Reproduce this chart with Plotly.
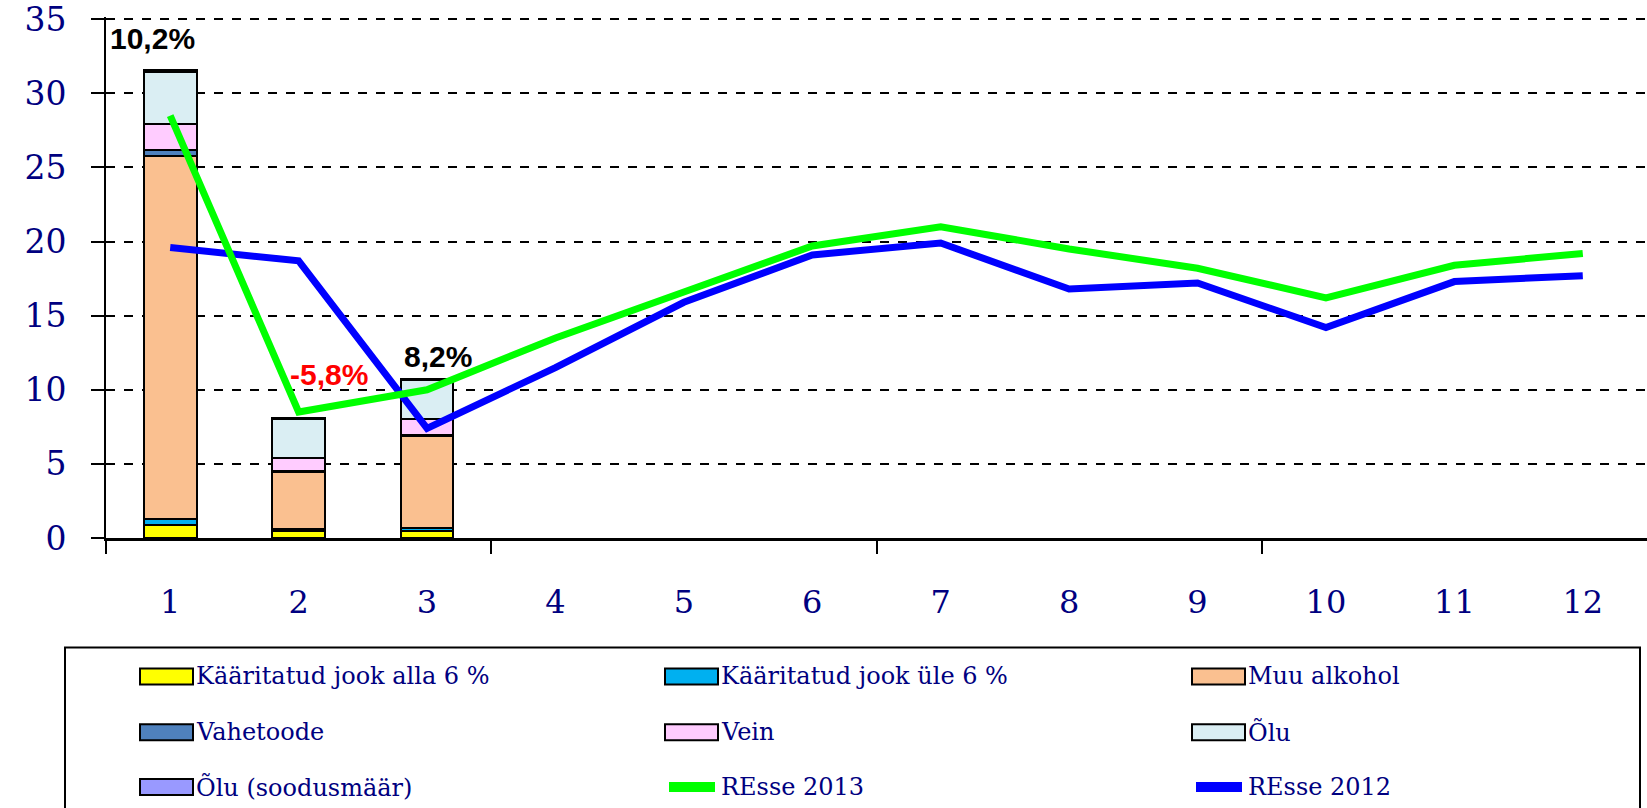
import plotly.graph_objects as go

# kuud
months = list(range(1, 13))
bar_months = [1, 2, 3]

# aktsiisilaekumine kaupade kaupa (mln)
kaar_alla6 = [0.9, 0.45, 0.5]
kaar_yle6 = [0.4, 0.15, 0.15]
muu_alkohol = [24.5, 3.85, 6.2]
vahetoode = [0.35, 0.1, 0.1]
vein = [1.8, 0.85, 1.05]
olu = [3.5, 2.6, 2.65]
olu_soodus = [0.1, 0.1, 0.1]

# REsse read
resse_2013 = [28.5, 8.5, 10.0, 13.5, 16.6, 19.7, 21.0, 19.5, 18.2, 16.2, 18.4, 19.2]
resse_2012 = [19.6, 18.7, 7.4, 11.5, 15.9, 19.1, 19.9, 16.8, 17.2, 14.2, 17.3, 17.7]

# muutuse sildid
pct_labels = ["10,2%", "-5,8%", "8,2%"]
pct_y = [33.7, 11.0, 12.25]
pct_shift = [-18, 30, 11]
pct_colors = ["black", "red", "black"]

bar_series = [
    ("Kääritatud jook alla 6 %", kaar_alla6, "#FFFF00"),
    ("Kääritatud jook üle 6 %", kaar_yle6, "#00B0F0"),
    ("Muu alkohol", muu_alkohol, "#FAC090"),
    ("Vahetoode", vahetoode, "#4F81BD"),
    ("Vein", vein, "#FFCCFF"),
    ("Õlu", olu, "#DAEEF3"),
    ("Õlu (soodusmäär)", olu_soodus, "#9999FF"),
]
line_series = [
    ("REsse 2013", resse_2013, "#00FF00"),
    ("REsse 2012", resse_2012, "#0000FF"),
]

W, H = 1647, 808
Y_MAX = 35.15
UNIT = (538 - 17) / 35  # px ühiku kohta
L, R = 106, 0
PB = 538
T = round(17 - (Y_MAX - 35) * UNIT)
B = H - PB
PW, PH = W - L - R, PB - T

fig = go.Figure()
for name, vals, col in bar_series:
    fig.add_trace(go.Bar(x=bar_months, y=vals, name=name, width=0.41,
                         marker=dict(color=col, line=dict(color="black", width=2)),
                         showlegend=False))
# sinine enne, roheline peale
for name, vals, col in line_series[::-1]:
    fig.add_trace(go.Scatter(x=months, y=vals, name=name, mode="lines",
                             line=dict(color=col, width=7), showlegend=False))

for m, txt, yv, sh, c in zip(bar_months, pct_labels, pct_y, pct_shift, pct_colors):
    fig.add_annotation(x=m, y=yv, text=f"<b>{txt}</b>", showarrow=False, xshift=sh,
                       font=dict(family="Liberation Sans", size=30, color=c))


def px(xp):
    return (xp - L) / PW


def py(yp):
    return (PB - yp) / PH


# legendi kast
fig.add_shape(type="rect", xref="paper", yref="paper",
              x0=px(65), x1=px(1640), y0=py(648), y1=py(820),
              line=dict(color="black", width=2), fillcolor="white", layer="below")

legend_items = [(n, c, "bar") for n, _, c in bar_series] + [(n, c, "line") for n, _, c in line_series]
col_x = [140, 665, 1192]
row_y = [677, 733, 788]
for i, (name, col, kind) in enumerate(legend_items):
    x0 = col_x[i % 3]
    yc = row_y[i // 3]
    if kind == "bar":
        fig.add_shape(type="rect", xref="paper", yref="paper",
                      x0=px(x0), x1=px(x0 + 53), y0=py(yc + 8), y1=py(yc - 8),
                      fillcolor=col, line=dict(color="black", width=2))
    else:
        fig.add_shape(type="line", xref="paper", yref="paper",
                      x0=px(x0 + 4), x1=px(x0 + 50), y0=py(yc), y1=py(yc),
                      line=dict(color=col, width=10))
    fig.add_annotation(xref="paper", yref="paper", x=px(x0 + 54), y=py(yc),
                       xanchor="left", yanchor="middle", showarrow=False, text=name,
                       font=dict(family="DejaVu Serif", size=24, color="#000080"))

fig.update_layout(
    width=W, height=H,
    margin=dict(l=L, r=R, t=T, b=B),
    plot_bgcolor="white", paper_bgcolor="white",
    barmode="stack", bargap=0.5,
    xaxis=dict(range=[0.5, 12.5], tickmode="array", tickvals=months,
               ticktext=[str(m) for m in months], ticks="",
               ticklabelstandoff=34,
               tickfont=dict(family="DejaVu Serif", size=32, color="#000080"),
               showline=True, linecolor="black", linewidth=3,
               showgrid=False, zeroline=False,
               minor=dict(tickmode="array", tickvals=[0.5, 3.5, 6.5, 9.5],
                          ticks="outside", ticklen=13, tickwidth=1.5,
                          tickcolor="black", showgrid=False)),
    yaxis=dict(range=[0, Y_MAX], tickvals=[0, 5, 10, 15, 20, 25, 30, 35],
               ticks="outside", ticklen=13, tickwidth=2, tickcolor="black",
               ticklabelstandoff=18, ticklabeloverflow="allow",
               tickfont=dict(family="DejaVu Serif", size=33, color="#000080"),
               showline=True, linecolor="black", linewidth=2,
               showgrid=True, gridcolor="black", gridwidth=1.5, griddash="dash",
               zeroline=False),
)

# ilma body marginaalita
fig.write_html("out.html", config={"displayModeBar": False},
               post_script="document.body.style.margin='0';")
